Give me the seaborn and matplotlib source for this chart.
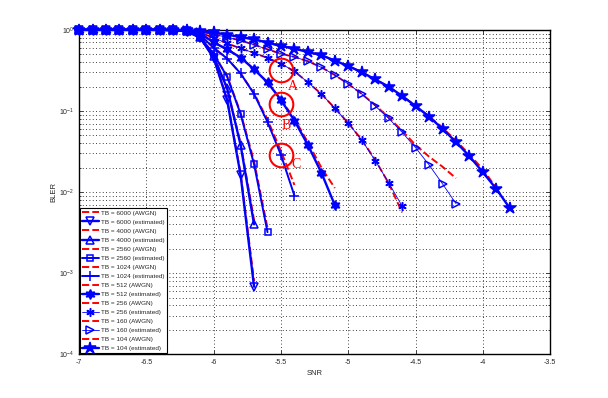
import numpy as np
import pandas as pd
import matplotlib
matplotlib.use("Agg")
import matplotlib.pyplot as plt
import seaborn as sns
from matplotlib.ticker import FixedLocator, LogLocator, NullFormatter

# SNR grid shared by all curves (step 0.1 dB)
snr = [-7.0, -6.9, -6.8, -6.7, -6.6, -6.5, -6.4, -6.3, -6.2, -6.1, -6.0,
       -5.9, -5.8, -5.7, -5.6, -5.5, -5.4, -5.3, -5.2, -5.1, -5.0, -4.9,
       -4.8, -4.7, -4.6, -4.5, -4.4, -4.3, -4.2, -4.1, -4.0, -3.9, -3.8]

tb_sizes = [6000, 4000, 2560, 1024, 512, 256, 160, 104]

# estimated BLER (blue)
est_6000 = [1, 1, 1, 1, 1, 1, 1, 0.99, 0.96, 0.80, 0.45, 0.136, 0.0162, 0.00068]
est_4000 = [1, 1, 1, 1, 1, 1, 1, 0.99, 0.965, 0.81, 0.47, 0.19, 0.038, 0.004]
est_2560 = [1, 1, 1, 1, 1, 1, 1, 0.99, 0.97, 0.82, 0.50, 0.265, 0.0917, 0.022, 0.0032]
est_1024 = [1, 1, 1, 1, 1, 1, 1, 0.995, 0.975, 0.86, 0.60, 0.443, 0.29, 0.162,
            0.073, 0.0286, 0.0090]
est_512 = [1, 1, 1, 1, 1, 1, 1, 0.995, 0.98, 0.90, 0.70, 0.574, 0.456, 0.326,
           0.225, 0.136, 0.076, 0.038, 0.0173, 0.0069]
est_256 = [1, 1, 1, 1, 1, 1, 1, 1.0, 0.985, 0.92, 0.80, 0.68, 0.59, 0.52, 0.45,
           0.383, 0.308, 0.225, 0.162, 0.108, 0.0704, 0.0438, 0.0244, 0.013, 0.0067]
est_160 = [1, 1, 1, 1, 1, 1, 1, 1.0, 0.99, 0.95, 0.88, 0.81, 0.74, 0.655, 0.575,
           0.508, 0.463, 0.41, 0.345, 0.277, 0.215, 0.162, 0.115, 0.081, 0.0545,
           0.0352, 0.0216, 0.0126, 0.0072]
est_104 = [1, 1, 1, 1, 1, 1, 1, 1.0, 0.995, 0.97, 0.93, 0.87, 0.816, 0.764, 0.695,
           0.632, 0.586, 0.533, 0.487, 0.417, 0.358, 0.30, 0.245, 0.199, 0.153,
           0.115, 0.085, 0.060, 0.0414, 0.0276, 0.0175, 0.0109, 0.0063]

# AWGN BLER (red dashed)
awgn_6000 = [1, 1, 1, 1, 1, 1, 1, 0.99, 0.96, 0.80, 0.45, 0.14, 0.017, 0.0008]
awgn_4000 = [1, 1, 1, 1, 1, 1, 1, 0.99, 0.965, 0.81, 0.47, 0.19, 0.040, 0.0045]
awgn_2560 = [1, 1, 1, 1, 1, 1, 1, 0.99, 0.97, 0.82, 0.50, 0.27, 0.095, 0.024, 0.0036]
awgn_1024 = [1, 1, 1, 1, 1, 1, 1, 0.995, 0.975, 0.86, 0.60, 0.443, 0.29, 0.165,
             0.078, 0.032, 0.0122]
awgn_512 = [1, 1, 1, 1, 1, 1, 1, 0.995, 0.98, 0.90, 0.70, 0.574, 0.456, 0.326,
            0.225, 0.138, 0.080, 0.041, 0.020, 0.0112]
awgn_256 = [1, 1, 1, 1, 1, 1, 1, 1.0, 0.985, 0.92, 0.80, 0.68, 0.59, 0.52, 0.45,
            0.383, 0.308, 0.225, 0.162, 0.108, 0.071, 0.044, 0.025, 0.0128, 0.0056]
awgn_160 = [1, 1, 1, 1, 1, 1, 1, 1.0, 0.99, 0.95, 0.88, 0.81, 0.74, 0.655, 0.575,
            0.508, 0.463, 0.41, 0.345, 0.277, 0.215, 0.162, 0.118, 0.083, 0.057,
            0.038, 0.0273, 0.0205, 0.0148]
awgn_104 = [1, 1, 1, 1, 1, 1, 1, 1.0, 0.995, 0.97, 0.93, 0.87, 0.816, 0.764, 0.695,
            0.632, 0.586, 0.533, 0.487, 0.417, 0.358, 0.30, 0.245, 0.199, 0.153,
            0.115, 0.086, 0.062, 0.043, 0.029, 0.019, 0.0112]

est = {6000: est_6000, 4000: est_4000, 2560: est_2560, 1024: est_1024,
       512: est_512, 256: est_256, 160: est_160, 104: est_104}
awgn = {6000: awgn_6000, 4000: awgn_4000, 2560: awgn_2560, 1024: awgn_1024,
        512: awgn_512, 256: awgn_256, 160: awgn_160, 104: awgn_104}

# marker style per TB
style = {
    6000: dict(marker="v", markersize=6, markerfacecolor="none", linewidth=1.7),
    4000: dict(marker="^", markersize=6, markerfacecolor="none", linewidth=1.7),
    2560: dict(marker="s", markersize=4, markerfacecolor="none", linewidth=1.4),
    1024: dict(marker="+", markersize=7, markerfacecolor="none", linewidth=1.4),
    512: dict(marker=(6, 1, 0), markersize=7, markerfacecolor="blue", linewidth=1.7),
    256: dict(marker=(6, 2, 0), markersize=6, markerfacecolor="none", linewidth=0.6),
    160: dict(marker=">", markersize=6, markerfacecolor="none", linewidth=0.6),
    104: dict(marker="*", markersize=9, markerfacecolor="blue", linewidth=1.7),
}

# highlighted points A, B, C
circle_x = [-5.5, -5.5, -5.5]
circle_y = [0.317, 0.121, 0.0286]
label_text = ["A", "B", "C"]
label_x = [-5.415, -5.46, -5.385]
label_y = [0.200, 0.066, 0.0220]

xtick_vals = [-7, -6.5, -6, -5.5, -5, -4.5, -4, -3.5]
xtick_labels = ["-7", "-6.5", "-6", "-5.5", "-5", "-4.5", "-4", "-3.5"]

sns.set_style("ticks")
plt.rcParams["font.family"] = ["Liberation Sans", "DejaVu Sans"]
plt.rcParams["axes.unicode_minus"] = False

fig = plt.figure(figsize=(6.08, 3.98), dpi=100)
ax = fig.add_axes([0.13, 0.11, 0.775, 0.815])
ax.set_yscale("log")

for tb in tb_sizes:
    n = len(awgn[tb])
    sns.lineplot(x=snr[:n], y=awgn[tb], ax=ax, color="red", linestyle="--",
                 linewidth=1.4, label=f"TB = {tb} (AWGN)", estimator=None,
                 sort=False, clip_on=False, zorder=3)
    n = len(est[tb])
    st = style[tb]
    sns.lineplot(x=snr[:n], y=est[tb], ax=ax, color="blue",
                 linewidth=st["linewidth"], marker=st["marker"],
                 markersize=st["markersize"],
                 markerfacecolor=st["markerfacecolor"],
                 markeredgecolor="blue", markeredgewidth=1.1,
                 label=f"TB = {tb} (estimated)", estimator=None, sort=False,
                 clip_on=False, zorder=4)

ax.plot(circle_x, circle_y, linestyle="none", marker="o", markersize=17,
        markerfacecolor="none", markeredgecolor="red", markeredgewidth=1.5,
        zorder=5)
for t, lx, ly in zip(label_text, label_x, label_y):
    ax.text(lx, ly, t, color="red", fontsize=10, family="Liberation Serif",
            ha="center", va="center", zorder=5)

ax.set_xlim(-7, -3.5)
ax.set_ylim(1e-4, 1)
ax.xaxis.set_major_locator(FixedLocator(xtick_vals))
ax.set_xticklabels(xtick_labels)
ax.yaxis.set_major_locator(LogLocator(base=10, numticks=10))
ax.yaxis.set_minor_locator(LogLocator(base=10, subs=np.arange(2, 10), numticks=20))
ax.yaxis.set_minor_formatter(NullFormatter())

ax.grid(True, which="major", linestyle=(0, (1, 3)), color="black", linewidth=0.6)
ax.grid(True, which="minor", axis="y", linestyle=(0, (1, 3)), color="black",
        linewidth=0.6)
ax.set_axisbelow(True)

ax.tick_params(which="both", direction="in", top=True, right=True,
               labelsize=5, width=0.6)
ax.tick_params(which="major", length=3)
ax.tick_params(which="minor", length=1.5)
for sp in ax.spines.values():
    sp.set_linewidth(1.0)
    sp.set_color("black")
    sp.set_visible(True)

ax.set_xlabel("SNR", fontsize=5.5, labelpad=3)
ax.set_ylabel("BLER", fontsize=5.5, labelpad=1)

leg = ax.legend(loc="lower left", fontsize=4.6, frameon=True, fancybox=False,
                framealpha=1, edgecolor="black", borderaxespad=0.15,
                handlelength=2.6, handletextpad=0.4, labelspacing=0.56,
                borderpad=0.3)
leg.get_frame().set_linewidth(0.8)

fig.savefig("out.png", dpi=100, facecolor="white")
